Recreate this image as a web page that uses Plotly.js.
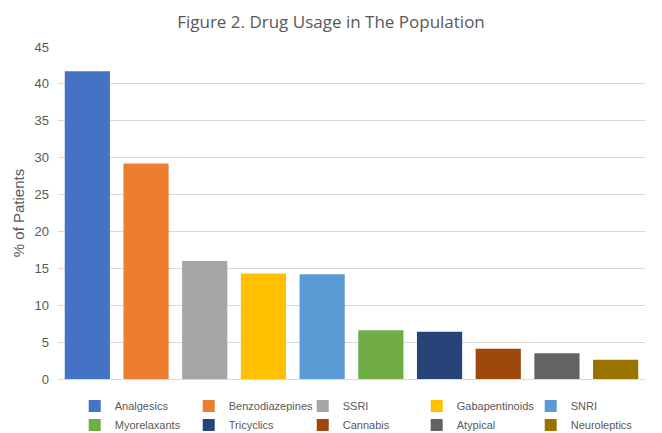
<!DOCTYPE html>
<html><head><meta charset="utf-8">
<script src="https://cdn.plot.ly/plotly-3.0.1.min.js"></script>
<style>body{margin:0;}#chart{width:662px;height:433px;}</style>
</head><body><div id="chart"></div>
<script>
const categories = ["Analgesics","Benzodiazepines","SSRI","Gabapentinoids","SNRI","Myorelaxants","Tricyclics","Cannabis","Atypical","Neuroleptics"];
const values = [41.7, 29.2, 16.0, 14.3, 14.2, 6.6, 6.4, 4.1, 3.5, 2.6];
const colors = ["#4472C4","#ED7D31","#A5A5A5","#FFC000","#5B9BD5","#70AD47","#264478","#9E480E","#636363","#997300"];
const yTicks = [0,5,10,15,20,25,30,35,40,45];

const traces = categories.map((c,i)=>({
  type:'bar', name:c, x:[c], y:[values[i]],
  marker:{color:colors[i]}, hoverinfo:'name+y'
}));
const layout = {
  width:662, height:433,
  margin:{l:58,r:17,t:47,b:54},
  paper_bgcolor:'#fff', plot_bgcolor:'#fff',
  font:{family:'"Liberation Sans", Arial, sans-serif', color:'#595959'},
  title:{text:'Figure 2. Drug Usage in The Population', x:0.5, xanchor:'center', y:0.949, yanchor:'middle', font:{size:17,color:'#595959', family:'"Open Sans", sans-serif'}},
  barmode:'overlay', bargap:0.23,
  xaxis:{categoryorder:'array', categoryarray:categories, showticklabels:false, showgrid:false, zeroline:false, showline:true, linecolor:'#d9d9d9', fixedrange:true},
  yaxis:{range:[0,45], tickvals:yTicks, showgrid:true, gridcolor:'#d9d9d9', zeroline:false, ticklabelstandoff:8,
    tickfont:{size:13,color:'#595959'},
    title:{text:'% of Patients', font:{size:15,color:'#595959'}, standoff:6}},
  showlegend:true,
  legend:{orientation:'h', xref:'paper', x:0.514, xanchor:'center', yref:'container', y:0.096, yanchor:'top',
    font:{size:11,color:'#595959', family:'"Liberation Sans", Arial, sans-serif'}, entrywidth:69, tracegroupgap:0, traceorder:'normal'}
};
Plotly.newPlot('chart', traces, layout, {displayModeBar:false, staticPlot:true});
</script></body></html>
